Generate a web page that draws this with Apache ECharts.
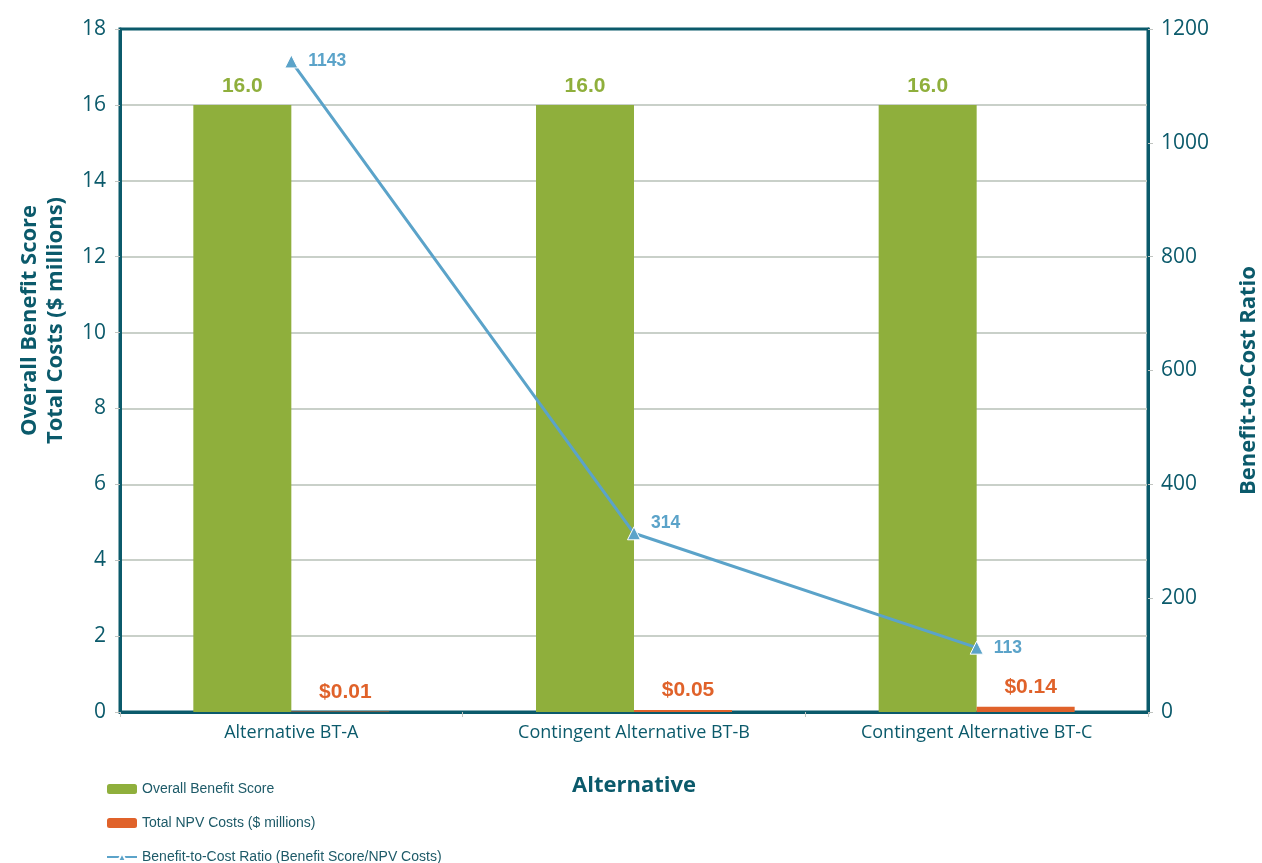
<!DOCTYPE html>
<html>
<head>
<meta charset="utf-8">
<style>
  html, body { margin: 0; padding: 0; background: #ffffff; }
  #chart { width: 1262px; height: 863px; }
</style>
<script src="https://cdn.jsdelivr.net/npm/echarts@6/dist/echarts.min.js"></script>
</head>
<body>
<div id="chart"></div>
<script>
// Alternatives compared
const categories = ['Alternative BT-A', 'Contingent Alternative BT-B', 'Contingent Alternative BT-C'];
// Overall benefit score (left axis)
const benefitScore = [16.0, 16.0, 16.0];
// Total NPV costs in $ millions (left axis)
const npvCosts = [0.01, 0.05, 0.14];
// Benefit-to-cost ratio (right axis)
const bcRatio = [1143, 314, 113];

const TEAL = '#0b5a6b';
const GREEN = '#8faf3c';
const ORANGE = '#e0622a';
const BLUE = '#5ba3c9';
const TICK_FONT = 'Open Sans';

// the middle ratio label sits a little higher than its neighbours
const ratioData = bcRatio.map((v, i) => i === 1 ? { value: v, label: { offset: [0, -10] } } : v);

const chart = echarts.init(document.getElementById('chart'));
chart.setOption({
  animation: false,
  backgroundColor: '#ffffff',
  grid: {
    left: 120, right: 114, top: 29, bottom: 151,
    containLabel: false, outerBoundsMode: 'none',
    show: true, borderColor: TEAL, borderWidth: 3, backgroundColor: 'transparent'
  },
  legend: {
    orient: 'vertical',
    left: 106, top: 782, height: 90,
    itemWidth: 30, itemHeight: 10, itemGap: 20,
    padding: 0,
    textStyle: { fontFamily: 'Liberation Sans', fontSize: 14, color: '#1d5a68' },
    data: ['Overall Benefit Score', 'Total NPV Costs ($ millions)', 'Benefit-to-Cost Ratio (Benefit Score/NPV Costs)']
  },
  xAxis: {
    type: 'category',
    data: categories,
    name: 'Alternative',
    nameLocation: 'middle',
    nameGap: 63,
    nameTextStyle: { fontFamily: TICK_FONT, fontWeight: 'bold', fontSize: 22, color: TEAL },
    axisLine: { show: true, lineStyle: { color: TEAL, width: 3 } },
    axisTick: { show: true, length: 5, lineStyle: { color: '#c0c4c0' } },
    axisLabel: { fontFamily: TICK_FONT, fontSize: 18, color: TEAL, margin: 12 }
  },
  yAxis: [
    {
      type: 'value', min: 0, max: 18, interval: 2,
      name: 'Overall Benefit Score\nTotal Costs ($ millions)',
      nameLocation: 'middle', nameGap: 51, nameRotate: 90,
      nameTextStyle: {
        fontFamily: TICK_FONT, fontWeight: 'bold', fontSize: 22, color: TEAL, lineHeight: 26,
        padding: [0, 0, 0, 100]
      },
      axisLine: { show: true, lineStyle: { color: TEAL, width: 3 } },
      axisTick: { show: true, length: 5, lineStyle: { color: '#c0c4c0' } },
      axisLabel: { fontFamily: TICK_FONT, fontSize: 21, color: TEAL, margin: 14 },
      splitLine: { show: true, showMinLine: false, showMaxLine: false, lineStyle: { color: '#c9d0c9', width: 2 } }
    },
    {
      type: 'value', min: 0, max: 1200, interval: 200,
      name: 'Benefit-to-Cost Ratio',
      nameLocation: 'middle', nameGap: 90, nameRotate: 90,
      nameTextStyle: {
        fontFamily: TICK_FONT, fontWeight: 'bold', fontSize: 22, color: TEAL,
        padding: [0, 20, 0, 0]
      },
      axisLine: { show: true, lineStyle: { color: TEAL, width: 3 } },
      axisTick: { show: true, length: 5, lineStyle: { color: '#c0c4c0' } },
      axisLabel: { fontFamily: TICK_FONT, fontSize: 21, color: TEAL, margin: 13, formatter: v => String(v) },
      splitLine: { show: false }
    }
  ],
  series: [
    {
      name: 'Overall Benefit Score',
      type: 'bar',
      data: benefitScore,
      barWidth: 98,
      barGap: '0%',
      itemStyle: { color: GREEN },
      label: {
        show: true, position: 'top', distance: 8,
        formatter: p => p.value.toFixed(1),
        fontFamily: 'Liberation Sans', fontWeight: 'bold', fontSize: 21, color: GREEN
      }
    },
    {
      name: 'Total NPV Costs ($ millions)',
      type: 'bar',
      data: npvCosts,
      barWidth: 98,
      barGap: '0%',
      itemStyle: { color: ORANGE },
      label: {
        show: true, position: 'top', distance: 9, offset: [5, 0],
        formatter: p => '$' + p.value.toFixed(2),
        fontFamily: 'Liberation Sans', fontWeight: 'bold', fontSize: 21, color: ORANGE
      }
    },
    {
      name: 'Benefit-to-Cost Ratio (Benefit Score/NPV Costs)',
      type: 'line',
      yAxisIndex: 1,
      data: ratioData,
      symbol: 'triangle',
      symbolSize: 13,
      lineStyle: { color: BLUE, width: 3 },
      itemStyle: { color: BLUE, borderColor: '#ffffff', borderWidth: 1 },
      label: {
        show: true, position: 'right', distance: 10,
        fontFamily: 'Liberation Sans', fontWeight: 'bold', fontSize: 17.5, color: BLUE
      },
      z: 5
    }
  ]
});
</script>
</body>
</html>
